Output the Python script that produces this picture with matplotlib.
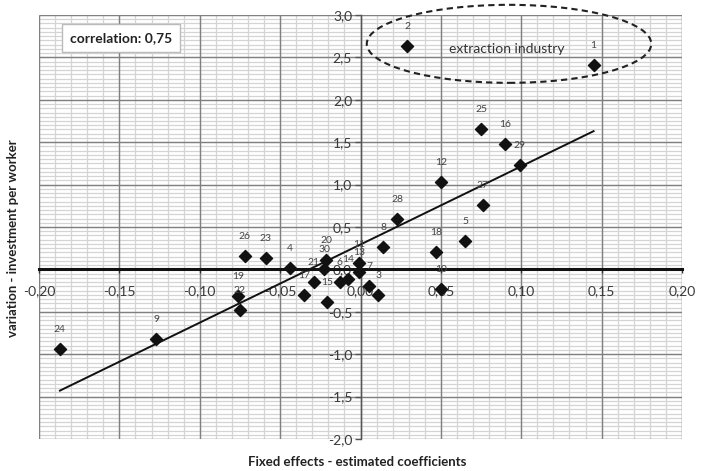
import numpy as np
import matplotlib
matplotlib.use("Agg")
import matplotlib.pyplot as plt
from matplotlib.patches import Ellipse
from matplotlib.ticker import FixedLocator, FuncFormatter

plt.rcParams['font.family'] = ['Lato', 'DejaVu Sans']

# ---- data ----
labels = [str(i) for i in range(1, 31)]
x_vals = [0.145, 0.029, 0.011, -0.044, 0.065, -0.013, 0.0055, 0.014, -0.127, 0.050,
          -0.001, 0.050, -0.001, -0.008, -0.021, 0.090, -0.035, 0.047, -0.076, -0.0215,
          -0.029, -0.075, -0.059, -0.187, 0.075, -0.072, 0.076, 0.023, 0.099, -0.0225]
y_vals = [2.41, 2.63, -0.30, 0.02, 0.33, -0.15, -0.20, 0.27, -0.82, -0.23,
          0.07, 1.03, -0.03, -0.11, -0.38, 1.48, -0.30, 0.21, -0.31, 0.11,
          -0.15, -0.48, 0.14, -0.94, 1.66, 0.16, 0.76, 0.59, 1.23, 0.00]
x_ticks = [-0.20, -0.15, -0.10, -0.05, 0.00, 0.05, 0.10, 0.15, 0.20]
y_ticks = [-2.0, -1.5, -1.0, -0.5, 0.0, 0.5, 1.0, 1.5, 2.0, 2.5, 3.0]
corr_text = "correlation: 0,75"
group_text = "extraction industry"
x_title = "Fixed effects - estimated coefficients"
y_title = "variation - investment per worker"

x = np.array(x_vals)
y = np.array(y_vals)

fig = plt.figure(figsize=(7.06, 4.71), dpi=100)
ax = fig.add_axes([39/706, 1-439/471, 643/706, 424/471])
ax.set_xlim(-0.20, 0.20)
ax.set_ylim(-2.0, 3.0)
ax.set_axisbelow(True)

# grid drawn as background lines so tick labels sit above them
x_minor = np.linspace(-0.20, 0.20, 41)
y_minor = np.linspace(-2.0, 3.0, 101)
ax.vlines(x_minor, -2.0, 3.0, color='#d4d4d4', lw=0.9, zorder=0.1)
ax.hlines(y_minor, -0.20, 0.20, color='#d4d4d4', lw=0.9, zorder=0.1)
ax.vlines(x_ticks, -2.0, 3.0, color='#808080', lw=1.0, zorder=0.2)
ax.hlines(y_ticks, -0.20, 0.20, color='#808080', lw=1.0, zorder=0.2)

ax.xaxis.set_major_locator(FixedLocator(x_ticks))
ax.yaxis.set_major_locator(FixedLocator(y_ticks))

# axes through origin
for s in ['top', 'right']:
    ax.spines[s].set_visible(False)
ax.spines['bottom'].set_position(('data', 0))
ax.spines['left'].set_position(('data', 0))
ax.spines['bottom'].set_linewidth(2.2)
ax.spines['bottom'].set_color('#111111')
ax.spines['left'].set_linewidth(1.0)
ax.spines['left'].set_color('#555555')
ax.spines['bottom'].set_zorder(2.5)

ax.tick_params(axis='x', which='major', direction='out', length=3, width=1,
               color='#333333', labelsize=10, labelcolor='#3a3a3a', pad=8)
ax.tick_params(axis='y', which='major', direction='out', length=4, width=1,
               color='#555555', labelsize=10, labelcolor='#3a3a3a', pad=2)
ax.xaxis.set_major_formatter(FuncFormatter(lambda v, p: f"{v:.2f}".replace('.', ',')))
ax.yaxis.set_major_formatter(FuncFormatter(lambda v, p: f"{v:.1f}".replace('.', ',')))

# regression line
k, b = np.polyfit(x, y, 1)
xl = np.array([x.min(), x.max()])
ax.plot(xl, k * xl + b, color='#111111', lw=1.4, zorder=3)

# points
ax.scatter(x, y, marker='D', s=38, color='#111111', zorder=4)
for xi, yi, t in zip(x, y, labels):
    ax.annotate(t, (xi, yi), xytext=(0, 14), textcoords='offset points',
                ha='center', va='center', fontsize=7.5, color='#444444', zorder=5)

# correlation box
ax.text(0.1275, 0.946, corr_text, transform=ax.transAxes, ha='center', va='center',
        fontsize=10, fontweight='bold', color='#222222',
        bbox=dict(boxstyle='square,pad=0.55', fc='white', ec='#bbbbbb', lw=1.0), zorder=6)

# extraction industry ellipse
ell = Ellipse((0.0924, 2.66), 0.177, 0.92, fill=False, ls=(0, (3, 2)), lw=1.5,
              ec='#222222', clip_on=False, zorder=5)
ax.add_patch(ell)
ax.text(0.091, 2.60, group_text, ha='center', va='center', fontsize=10,
        color='#333333', zorder=5)

fig.text(357/706, 1-462/471, x_title, ha='center', va='center', fontsize=9.5,
         fontweight='bold', color='#222222')
fig.text(13/706, 1-238/471, y_title, ha='center', va='center', rotation=90,
         fontsize=9.5, fontweight='bold', color='#222222')

fig.savefig('out.png', dpi=100, facecolor='white')
